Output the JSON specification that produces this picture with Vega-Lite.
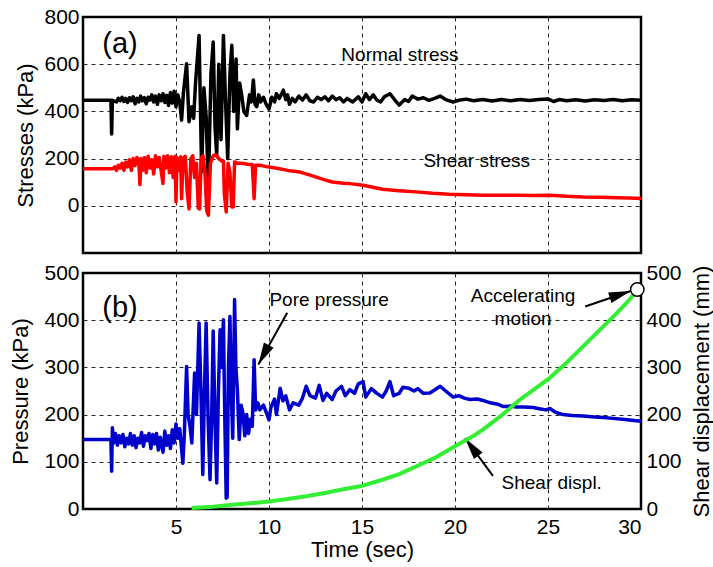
{
  "$schema": "https://vega.github.io/schema/vega-lite/v6.json",
  "padding": {"left": 8, "top": 4, "right": 0, "bottom": 0},
  "background": "white",
  "spacing": 5,
  "config": {
    "font": "Liberation Sans",
    "view": {"stroke": "black", "strokeWidth": 2.5},
    "axis": {
      "domain": false, "ticks": false,
      "labelFont": "Liberation Sans", "labelFontSize": 21, "labelColor": "black", "labelPadding": 4,
      "titleFont": "Liberation Sans", "titleFontSize": 22, "titleFontWeight": "normal", "titleColor": "black",
      "gridColor": "black", "gridDash": [4, 4], "gridOpacity": 0.85, "gridWidth": 1
    },
    "text": {"font": "Liberation Sans", "fontSize": 19, "color": "black"}
  },
  "datasets": {
    "normal": [
      {"t":0,"v":447},{"t":1.5,"v":447},{"t":1.54,"v":304},{"t":1.58,"v":447},{"t":1.8,"v":440},{"t":1.9,"v":455},{"t":2.0,"v":445},{"t":2.1,"v":460},{"t":2.2,"v":442},{"t":2.3,"v":455},{"t":2.4,"v":438},{"t":2.5,"v":458},{"t":2.6,"v":445},{"t":2.7,"v":462},{"t":2.8,"v":432},{"t":2.9,"v":455},{"t":3.0,"v":440},{"t":3.1,"v":465},{"t":3.2,"v":445},{"t":3.3,"v":458},{"t":3.4,"v":432},{"t":3.5,"v":460},{"t":3.6,"v":448},{"t":3.7,"v":470},{"t":3.8,"v":440},{"t":3.9,"v":465},{"t":4.0,"v":430},{"t":4.1,"v":470},{"t":4.2,"v":445},{"t":4.3,"v":475},{"t":4.4,"v":438},{"t":4.5,"v":468},{"t":4.6,"v":425},{"t":4.7,"v":480},{"t":4.8,"v":435},{"t":4.9,"v":485},{"t":5.0,"v":420},{"t":5.1,"v":470},{"t":5.2,"v":440},{"t":5.3,"v":363},{"t":5.4,"v":480},{"t":5.57,"v":602},{"t":5.7,"v":356},{"t":5.85,"v":420},{"t":5.95,"v":370},{"t":6.05,"v":520},{"t":6.24,"v":722},{"t":6.38,"v":143},{"t":6.5,"v":500},{"t":6.62,"v":380},{"t":6.74,"v":73},{"t":6.88,"v":560},{"t":7.0,"v":694},{"t":7.1,"v":330},{"t":7.19,"v":215},{"t":7.3,"v":600},{"t":7.42,"v":280},{"t":7.55,"v":722},{"t":7.66,"v":450},{"t":7.78,"v":200},{"t":7.9,"v":560},{"t":8.0,"v":680},{"t":8.1,"v":400},{"t":8.23,"v":622},{"t":8.3,"v":326},{"t":8.42,"v":520},{"t":8.53,"v":470},{"t":8.65,"v":400},{"t":8.8,"v":383},{"t":8.95,"v":470},{"t":9.05,"v":440},{"t":9.16,"v":533},{"t":9.25,"v":430},{"t":9.34,"v":420},{"t":9.45,"v":470},{"t":9.55,"v":440},{"t":9.7,"v":460},{"t":9.85,"v":430},{"t":10.0,"v":410},{"t":10.15,"v":460},{"t":10.3,"v":440},{"t":10.4,"v":475},{"t":10.55,"v":455},{"t":10.65,"v":470},{"t":10.77,"v":490},{"t":10.9,"v":450},{"t":11.0,"v":470},{"t":11.1,"v":430},{"t":11.25,"v":455},{"t":11.4,"v":440},{"t":11.6,"v":465},{"t":11.8,"v":448},{"t":12.0,"v":470},{"t":12.2,"v":445},{"t":12.4,"v":440},{"t":12.6,"v":460},{"t":12.8,"v":450},{"t":13.0,"v":462},{"t":13.2,"v":445},{"t":13.4,"v":465},{"t":13.6,"v":450},{"t":13.8,"v":458},{"t":14.0,"v":440},{"t":14.2,"v":455},{"t":14.5,"v":440},{"t":14.8,"v":462},{"t":15.0,"v":440},{"t":15.2,"v":475},{"t":15.4,"v":450},{"t":15.6,"v":470},{"t":15.8,"v":448},{"t":16.0,"v":440},{"t":16.2,"v":462},{"t":16.5,"v":475},{"t":16.8,"v":445},{"t":17.0,"v":427},{"t":17.3,"v":450},{"t":17.5,"v":442},{"t":17.7,"v":465},{"t":18.0,"v":452},{"t":18.3,"v":458},{"t":18.6,"v":447},{"t":18.9,"v":455},{"t":19.2,"v":465},{"t":19.5,"v":450},{"t":19.9,"v":440},{"t":20.2,"v":447},{"t":20.6,"v":452},{"t":21.0,"v":445},{"t":21.5,"v":450},{"t":22.0,"v":444},{"t":22.5,"v":450},{"t":23.0,"v":445},{"t":23.5,"v":450},{"t":24.0,"v":446},{"t":24.5,"v":450},{"t":25.0,"v":453},{"t":25.3,"v":442},{"t":25.6,"v":450},{"t":26.0,"v":445},{"t":26.5,"v":449},{"t":27.0,"v":444},{"t":27.5,"v":449},{"t":28.0,"v":446},{"t":28.5,"v":450},{"t":29.0,"v":445},{"t":29.5,"v":449},{"t":30.0,"v":447}
    ],
    "shear": [
      {"t":0,"v":157},{"t":1.6,"v":157},{"t":1.7,"v":165},{"t":1.8,"v":150},{"t":1.9,"v":172},{"t":2.0,"v":160},{"t":2.1,"v":180},{"t":2.2,"v":150},{"t":2.3,"v":185},{"t":2.4,"v":165},{"t":2.5,"v":195},{"t":2.6,"v":150},{"t":2.7,"v":200},{"t":2.8,"v":170},{"t":2.9,"v":205},{"t":3.0,"v":190},{"t":3.06,"v":90},{"t":3.12,"v":200},{"t":3.2,"v":150},{"t":3.3,"v":205},{"t":3.4,"v":140},{"t":3.5,"v":210},{"t":3.6,"v":160},{"t":3.7,"v":195},{"t":3.8,"v":135},{"t":3.9,"v":212},{"t":4.0,"v":165},{"t":4.1,"v":205},{"t":4.2,"v":150},{"t":4.3,"v":95},{"t":4.35,"v":210},{"t":4.45,"v":160},{"t":4.55,"v":212},{"t":4.65,"v":140},{"t":4.75,"v":208},{"t":4.85,"v":120},{"t":4.95,"v":210},{"t":5.0,"v":16},{"t":5.05,"v":205},{"t":5.15,"v":150},{"t":5.25,"v":208},{"t":5.3,"v":30},{"t":5.38,"v":200},{"t":5.5,"v":210},{"t":5.6,"v":60},{"t":5.7,"v":-13},{"t":5.8,"v":200},{"t":5.9,"v":212},{"t":6.0,"v":120},{"t":6.1,"v":180},{"t":6.2,"v":-10},{"t":6.27,"v":-13},{"t":6.35,"v":200},{"t":6.45,"v":212},{"t":6.55,"v":150},{"t":6.65,"v":-20},{"t":6.74,"v":-40},{"t":6.85,"v":180},{"t":7.0,"v":212},{"t":7.15,"v":215},{"t":7.3,"v":200},{"t":7.45,"v":190},{"t":7.55,"v":190},{"t":7.6,"v":50},{"t":7.7,"v":-26},{"t":7.8,"v":180},{"t":7.9,"v":140},{"t":8.0,"v":-5},{"t":8.08,"v":-5},{"t":8.15,"v":186},{"t":8.3,"v":180},{"t":8.5,"v":180},{"t":8.7,"v":178},{"t":8.9,"v":175},{"t":9.1,"v":175},{"t":9.2,"v":30},{"t":9.28,"v":172},{"t":9.5,"v":172},{"t":10.0,"v":164},{"t":10.5,"v":158},{"t":11.0,"v":150},{"t":11.67,"v":143},{"t":12.3,"v":128},{"t":13.0,"v":110},{"t":13.4,"v":101},{"t":14.0,"v":96},{"t":14.35,"v":94},{"t":15.06,"v":87},{"t":16.1,"v":70},{"t":17.0,"v":64},{"t":17.9,"v":59},{"t":18.8,"v":53},{"t":19.7,"v":49},{"t":20.6,"v":47},{"t":21.5,"v":45},{"t":22.5,"v":45},{"t":23.3,"v":45},{"t":24.2,"v":44},{"t":25.1,"v":45},{"t":26.0,"v":40},{"t":26.9,"v":37},{"t":27.8,"v":36},{"t":28.7,"v":34},{"t":29.4,"v":33},{"t":30.0,"v":31}
    ],
    "pore": [
      {"t":0,"v":147},{"t":1.5,"v":147},{"t":1.54,"v":80},{"t":1.58,"v":172},{"t":1.65,"v":140},{"t":1.75,"v":160},{"t":1.85,"v":135},{"t":1.95,"v":155},{"t":2.05,"v":140},{"t":2.15,"v":158},{"t":2.25,"v":132},{"t":2.35,"v":150},{"t":2.45,"v":138},{"t":2.55,"v":160},{"t":2.65,"v":135},{"t":2.75,"v":155},{"t":2.85,"v":130},{"t":2.95,"v":150},{"t":3.05,"v":140},{"t":3.15,"v":162},{"t":3.25,"v":133},{"t":3.35,"v":155},{"t":3.45,"v":145},{"t":3.55,"v":160},{"t":3.65,"v":128},{"t":3.75,"v":158},{"t":3.85,"v":138},{"t":3.95,"v":160},{"t":4.05,"v":125},{"t":4.15,"v":152},{"t":4.3,"v":120},{"t":4.4,"v":165},{"t":4.5,"v":135},{"t":4.6,"v":155},{"t":4.7,"v":128},{"t":4.8,"v":168},{"t":4.9,"v":140},{"t":5.0,"v":180},{"t":5.1,"v":150},{"t":5.2,"v":170},{"t":5.37,"v":97},{"t":5.45,"v":160},{"t":5.57,"v":302},{"t":5.65,"v":200},{"t":5.75,"v":176},{"t":5.85,"v":140},{"t":6.0,"v":288},{"t":6.1,"v":200},{"t":6.24,"v":394},{"t":6.34,"v":250},{"t":6.44,"v":73},{"t":6.53,"v":250},{"t":6.62,"v":394},{"t":6.72,"v":200},{"t":6.83,"v":62},{"t":6.92,"v":200},{"t":7.0,"v":377},{"t":7.1,"v":180},{"t":7.19,"v":55},{"t":7.28,"v":250},{"t":7.37,"v":380},{"t":7.45,"v":300},{"t":7.55,"v":401},{"t":7.62,"v":200},{"t":7.7,"v":23},{"t":7.75,"v":25},{"t":7.82,"v":300},{"t":7.9,"v":408},{"t":7.97,"v":250},{"t":8.05,"v":150},{"t":8.15,"v":444},{"t":8.22,"v":300},{"t":8.3,"v":253},{"t":8.4,"v":147},{"t":8.5,"v":220},{"t":8.6,"v":203},{"t":8.7,"v":155},{"t":8.8,"v":200},{"t":8.9,"v":160},{"t":9.0,"v":190},{"t":9.1,"v":175},{"t":9.2,"v":316},{"t":9.28,"v":210},{"t":9.4,"v":225},{"t":9.5,"v":210},{"t":9.7,"v":220},{"t":9.85,"v":205},{"t":10.0,"v":189},{"t":10.1,"v":215},{"t":10.3,"v":233},{"t":10.4,"v":200},{"t":10.6,"v":256},{"t":10.75,"v":229},{"t":10.9,"v":240},{"t":11.1,"v":210},{"t":11.3,"v":225},{"t":11.6,"v":220},{"t":11.8,"v":235},{"t":12.0,"v":260},{"t":12.2,"v":240},{"t":12.5,"v":235},{"t":12.7,"v":262},{"t":12.9,"v":230},{"t":13.1,"v":245},{"t":13.4,"v":232},{"t":13.6,"v":250},{"t":13.9,"v":260},{"t":14.1,"v":240},{"t":14.35,"v":253},{"t":14.6,"v":245},{"t":14.8,"v":265},{"t":15.06,"v":270},{"t":15.2,"v":237},{"t":15.5,"v":255},{"t":15.8,"v":245},{"t":16.1,"v":237},{"t":16.3,"v":250},{"t":16.5,"v":270},{"t":16.7,"v":240},{"t":17.0,"v":245},{"t":17.2,"v":258},{"t":17.5,"v":256},{"t":17.8,"v":250},{"t":18.0,"v":255},{"t":18.3,"v":245},{"t":18.65,"v":246},{"t":18.9,"v":252},{"t":19.2,"v":260},{"t":19.5,"v":250},{"t":19.9,"v":237},{"t":20.2,"v":240},{"t":20.5,"v":235},{"t":20.8,"v":232},{"t":21.2,"v":233},{"t":21.5,"v":230},{"t":21.9,"v":225},{"t":22.3,"v":222},{"t":22.6,"v":217},{"t":23.0,"v":218},{"t":23.3,"v":216},{"t":23.7,"v":216},{"t":24.2,"v":215},{"t":24.6,"v":212},{"t":24.9,"v":210},{"t":25.1,"v":213},{"t":25.4,"v":205},{"t":25.8,"v":200},{"t":26.3,"v":198},{"t":26.9,"v":197},{"t":27.5,"v":195},{"t":28.0,"v":194},{"t":28.5,"v":192},{"t":29.0,"v":190},{"t":29.5,"v":188},{"t":30.0,"v":186}
    ],
    "disp": [
      {"t":5.84,"v":2},{"t":7,"v":5},{"t":8,"v":9},{"t":9,"v":12},{"t":10,"v":16},{"t":11,"v":21},{"t":12,"v":27},{"t":13,"v":34},{"t":14,"v":42},{"t":14.9,"v":48},{"t":16.1,"v":62},{"t":17,"v":74},{"t":17.9,"v":90},{"t":19,"v":110},{"t":20,"v":133},{"t":21,"v":155},{"t":21.5,"v":168},{"t":22.4,"v":195},{"t":23.0,"v":215},{"t":23.5,"v":232},{"t":24.2,"v":252},{"t":25.1,"v":278},{"t":26,"v":310},{"t":26.9,"v":345},{"t":27.8,"v":380},{"t":28.7,"v":415},{"t":29.3,"v":440},{"t":29.8,"v":463}
    ]
  },
  "vconcat": [
    {
      "width": 558,
      "height": 236,
      "layer": [
        {
          "data": {"name": "normal"},
          "mark": {"type": "line", "color": "black", "strokeWidth": 3.5, "strokeJoin": "round"},
          "encoding": {
            "x": {"field": "t", "type": "quantitative", "scale": {"domain": [0, 30], "nice": false},
                  "axis": {"values": [5, 10, 15, 20, 25], "labels": false, "title": null, "grid": true}},
            "y": {"field": "v", "type": "quantitative", "scale": {"domain": [-200, 800], "nice": false},
                  "axis": {"values": [0, 200, 400, 600, 800], "title": "Stresses (kPa)", "titlePadding": 6, "grid": true}}
          }
        },
        {
          "data": {"name": "shear"},
          "mark": {"type": "line", "color": "#ff0000", "strokeWidth": 3.5, "strokeJoin": "round"},
          "encoding": {
            "x": {"field": "t", "type": "quantitative"},
            "y": {"field": "v", "type": "quantitative"}
          }
        },
        {
          "data": {"values": [{"t": 1.99, "v": 686, "label": "(a)"}]},
          "mark": {"type": "text", "fontSize": 29, "align": "center", "baseline": "middle"},
          "encoding": {
            "x": {"field": "t", "type": "quantitative"},
            "y": {"field": "v", "type": "quantitative"},
            "text": {"field": "label"}
          }
        },
        {
          "data": {"values": [{"t": 17.04, "v": 639, "label": "Normal stress"}, {"t": 21.17, "v": 190, "label": "Shear stress"}]},
          "mark": {"type": "text", "fontSize": 19, "align": "center", "baseline": "middle"},
          "encoding": {
            "x": {"field": "t", "type": "quantitative"},
            "y": {"field": "v", "type": "quantitative"},
            "text": {"field": "label"}
          }
        }
      ]
    },
    {
      "width": 558,
      "height": 236,
      "resolve": {"scale": {"y": "independent"}},
      "layer": [
        {
          "layer": [
            {
              "data": {"name": "pore"},
              "mark": {"type": "line", "color": "#0000cc", "strokeWidth": 3.5, "strokeJoin": "round"},
              "encoding": {
                "x": {"field": "t", "type": "quantitative", "scale": {"domain": [0, 30], "nice": false},
                      "axis": {"values": [5, 10, 15, 20, 25, 30], "title": "Time (sec)", "labelPadding": 7, "titlePadding": 2, "grid": true}},
                "y": {"field": "v", "type": "quantitative", "scale": {"domain": [0, 500], "nice": false},
                      "axis": {"values": [0, 100, 200, 300, 400, 500], "title": "Pressure (kPa)", "titlePadding": 11, "grid": true}}
              }
            },
            {
              "data": {"values": [{"t": 1.99, "v": 426, "label": "(b)"}]},
              "mark": {"type": "text", "fontSize": 29, "align": "center", "baseline": "middle"},
              "encoding": {
                "x": {"field": "t", "type": "quantitative"},
                "y": {"field": "v", "type": "quantitative"},
                "text": {"field": "label"}
              }
            },
            {
              "data": {"values": [
                {"t": 13.23, "v": 443, "label": "Pore pressure"},
                {"t": 23.66, "v": 451, "label": "Accelerating"},
                {"t": 23.66, "v": 402, "label": "motion"},
                {"t": 25.2, "v": 55, "label": "Shear displ."}
              ]},
              "mark": {"type": "text", "fontSize": 19, "align": "center", "baseline": "middle"},
              "encoding": {
                "x": {"field": "t", "type": "quantitative"},
                "y": {"field": "v", "type": "quantitative"},
                "text": {"field": "label"}
              }
            },
            {
              "data": {"values": [
                {"t": 10.98, "v": 416, "t2": 9.43, "v2": 306},
                {"t": 27.0, "v": 429, "t2": 29.45, "v2": 462},
                {"t": 22.04, "v": 70, "t2": 20.54, "v2": 150}
              ]},
              "mark": {"type": "rule", "color": "black", "strokeWidth": 2},
              "encoding": {
                "x": {"field": "t", "type": "quantitative"},
                "y": {"field": "v", "type": "quantitative"},
                "x2": {"field": "t2"},
                "y2": {"field": "v2"}
              }
            },
            {
              "data": {"values": [{"t": 9.43, "v": 306}]},
              "mark": {"type": "point", "shape": "M0,0L-1.1,4.4L1.1,4.4Z", "size": 100, "filled": true, "color": "black", "opacity": 1, "angle": 208},
              "encoding": {
                "x": {"field": "t", "type": "quantitative"},
                "y": {"field": "v", "type": "quantitative"}
              }
            },
            {
              "data": {"values": [{"t": 29.45, "v": 462}]},
              "mark": {"type": "point", "shape": "M0,0L-1.1,4.4L1.1,4.4Z", "size": 100, "filled": true, "color": "black", "opacity": 1, "angle": 72},
              "encoding": {
                "x": {"field": "t", "type": "quantitative"},
                "y": {"field": "v", "type": "quantitative"}
              }
            },
            {
              "data": {"values": [{"t": 20.54, "v": 150}]},
              "mark": {"type": "point", "shape": "M0,0L-1.1,4.4L1.1,4.4Z", "size": 100, "filled": true, "color": "black", "opacity": 1, "angle": 323},
              "encoding": {
                "x": {"field": "t", "type": "quantitative"},
                "y": {"field": "v", "type": "quantitative"}
              }
            }
          ]
        },
        {
          "layer": [
            {
              "data": {"name": "disp"},
              "mark": {"type": "line", "color": "#33ee33", "strokeWidth": 4, "strokeJoin": "round"},
              "encoding": {
                "x": {"field": "t", "type": "quantitative"},
                "y": {"field": "v", "type": "quantitative", "scale": {"domain": [0, 500], "nice": false},
                      "axis": {"orient": "right", "values": [0, 100, 200, 300, 400, 500], "title": "Shear displacement (mm)", "titleAngle": 270, "titleBaseline": "top", "titlePadding": 10, "labelPadding": 5, "grid": false}}
              }
            },
            {
              "data": {"values": [{"t": 29.8, "v": 465}]},
              "mark": {"type": "point", "shape": "circle", "size": 180, "filled": true, "fill": "white", "stroke": "black", "strokeWidth": 1.5, "opacity": 1},
              "encoding": {
                "x": {"field": "t", "type": "quantitative"},
                "y": {"field": "v", "type": "quantitative"}
              }
            }
          ]
        }
      ]
    }
  ]
}
